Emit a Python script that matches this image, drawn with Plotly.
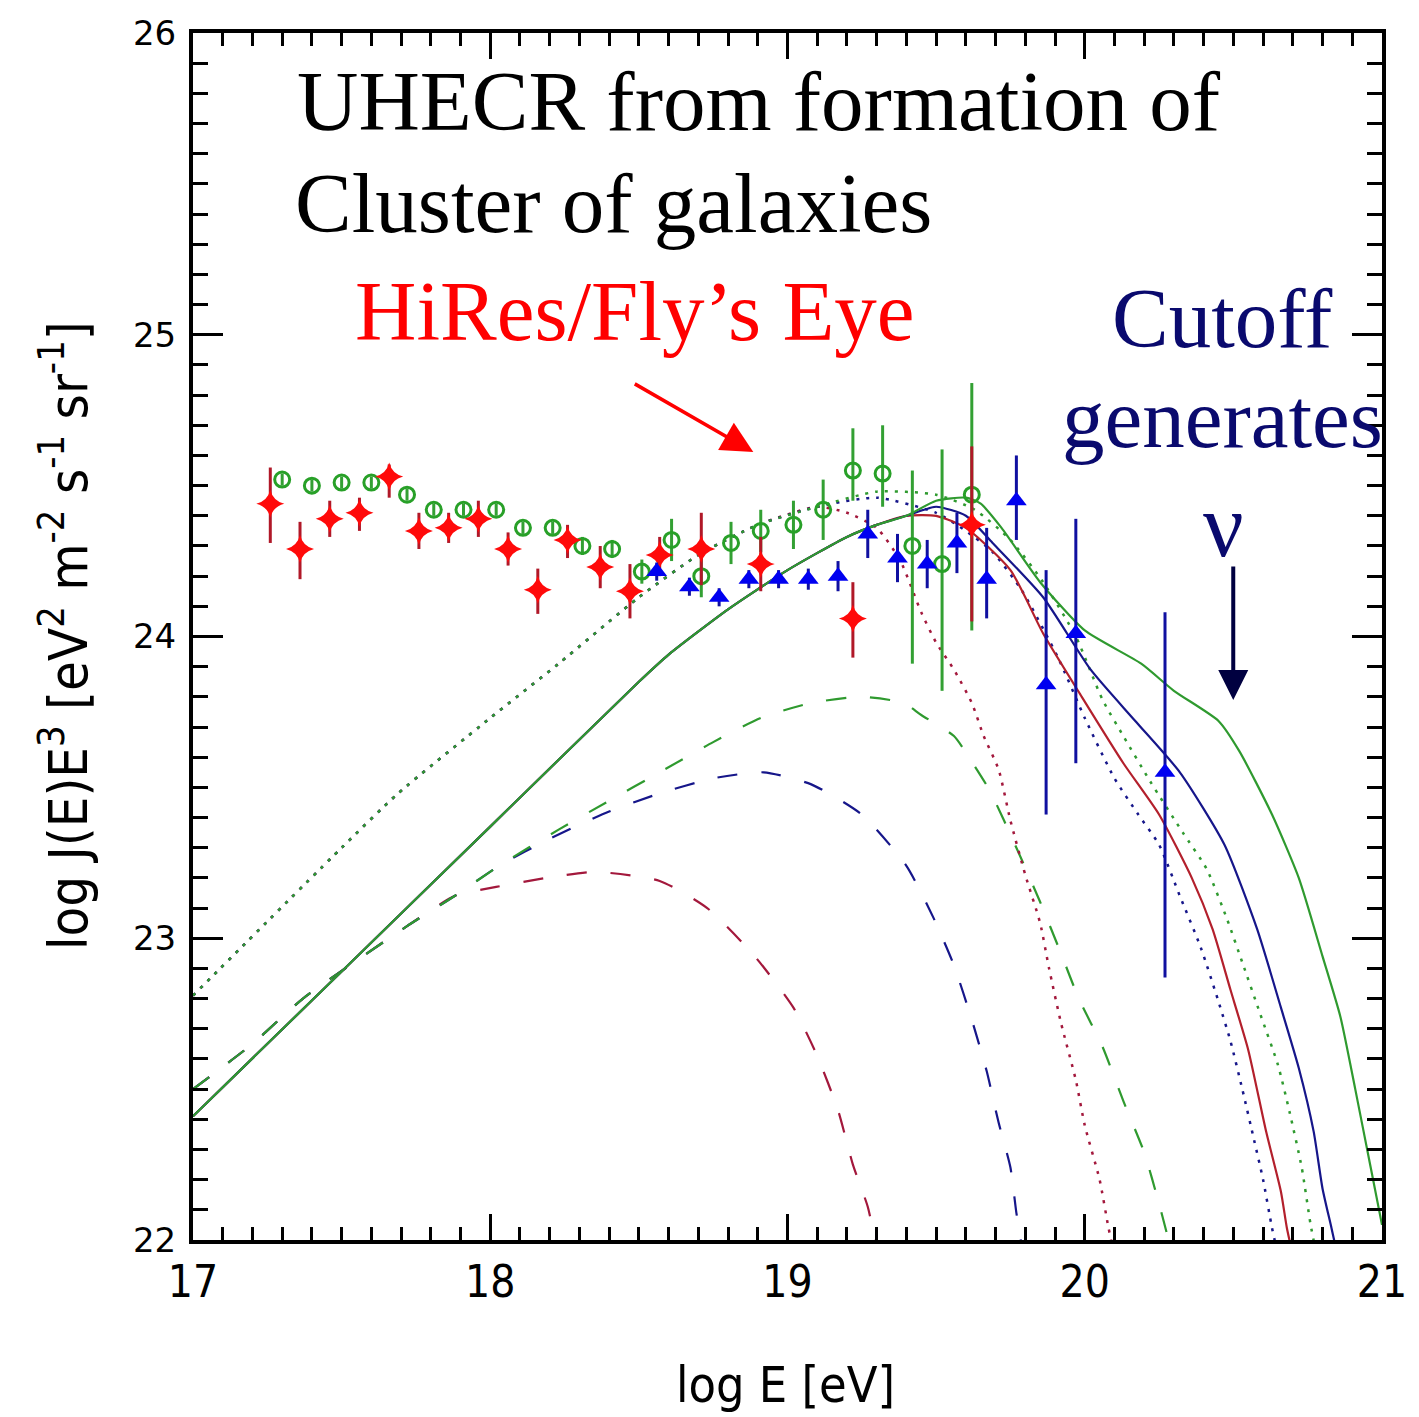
import plotly.graph_objects as go

# ---------------- data ----------------
# HiRes (red stars)
hires_x = [17.26, 17.36, 17.46, 17.56, 17.66, 17.76, 17.86, 17.96, 18.06, 18.16, 18.26, 18.37, 18.47, 18.57, 18.71, 18.91, 19.22, 19.62]
hires_y = [24.44, 24.29, 24.39, 24.41, 24.53, 24.35, 24.36, 24.39, 24.29, 24.155, 24.32, 24.23, 24.15, 24.27, 24.29, 24.24, 24.06, 24.37]
hires_ep = [0.12, 0.09, 0.06, 0.05, 0.04, 0.06, 0.05, 0.06, 0.055, 0.07, 0.05, 0.07, 0.09, 0.06, 0.12, 0.09, 0.12, 0.26]
hires_em = [0.13, 0.10, 0.06, 0.06, 0.07, 0.06, 0.05, 0.06, 0.055, 0.08, 0.06, 0.07, 0.09, 0.07, 0.12, 0.09, 0.13, 0.32]

# Fly's Eye (green open circles)
fly_x = [17.30, 17.40, 17.50, 17.60, 17.72, 17.81, 17.91, 18.02, 18.11, 18.21, 18.31, 18.41, 18.51, 18.61, 18.71, 18.81, 18.91, 19.02, 19.12, 19.22, 19.32, 19.42, 19.52, 19.62]
fly_y = [24.52, 24.50, 24.51, 24.51, 24.47, 24.42, 24.42, 24.42, 24.36, 24.36, 24.30, 24.29, 24.215, 24.32, 24.20, 24.31, 24.35, 24.37, 24.42, 24.55, 24.54, 24.30, 24.24, 24.47]
fly_ep = [0.02, 0.02, 0.02, 0.02, 0.02, 0.02, 0.02, 0.02, 0.02, 0.02, 0.03, 0.03, 0.04, 0.07, 0.07, 0.07, 0.07, 0.08, 0.10, 0.14, 0.16, 0.25, 0.38, 0.37]
fly_em = [0.02, 0.02, 0.02, 0.02, 0.02, 0.02, 0.02, 0.02, 0.02, 0.02, 0.03, 0.03, 0.04, 0.07, 0.07, 0.07, 0.07, 0.08, 0.10, 0.10, 0.11, 0.39, 0.42, 0.45]

# AGASA (blue triangles)
agasa_x = [18.56, 18.67, 18.77, 18.87, 18.97, 19.07, 19.17, 19.27, 19.37, 19.47, 19.57, 19.67, 19.77, 19.87, 19.97, 20.27]
agasa_y = [24.215, 24.165, 24.13, 24.19, 24.19, 24.19, 24.20, 24.34, 24.26, 24.24, 24.31, 24.19, 24.45, 23.84, 24.01, 23.55]
agasa_ep = [0.03, 0.03, 0.03, 0.03, 0.03, 0.035, 0.05, 0.08, 0.08, 0.08, 0.10, 0.17, 0.15, 0.38, 0.38, 0.53]
agasa_em = [0.03, 0.03, 0.03, 0.03, 0.03, 0.035, 0.05, 0.08, 0.08, 0.08, 0.10, 0.13, 0.13, 0.43, 0.43, 0.68]

# model curves: shared rising parts
solid_rise_x = [17.0, 17.5, 18.0, 18.5, 18.6, 18.8, 19.0, 19.2, 19.3, 19.4]
solid_rise_y = [22.41, 22.89, 23.37, 23.85, 23.94, 24.09, 24.22, 24.33, 24.37, 24.40]
dotted_rise_x = [17.0, 17.5, 17.69, 18.0, 18.23, 18.5, 18.7, 18.9, 19.1]
dotted_rise_y = [22.81, 23.30, 23.48, 23.73, 23.91, 24.13, 24.27, 24.37, 24.43]
dashed_rise_x = [17.0, 17.2, 17.37, 17.72, 17.88]
dashed_rise_y = [22.50, 22.65, 22.80, 23.04, 23.14]

# solid tails
green_solid_x = [19.5, 19.6, 19.65, 19.72, 19.85, 20.0, 20.19, 20.30, 20.45, 20.52, 20.63, 20.72, 20.80, 20.86, 20.91, 20.96, 21.0]
green_solid_y = [24.45, 24.46, 24.44, 24.36, 24.18, 24.02, 23.91, 23.82, 23.72, 23.62, 23.41, 23.20, 22.94, 22.74, 22.50, 22.25, 22.05]
blue_solid_x = [19.5, 19.6, 19.69, 19.86, 20.02, 20.17, 20.32, 20.47, 20.58, 20.66, 20.72, 20.77, 20.80, 20.83, 20.85]
blue_solid_y = [24.43, 24.40, 24.31, 24.13, 23.89, 23.72, 23.55, 23.31, 23.03, 22.77, 22.57, 22.36, 22.17, 22.04, 21.95]
red_solid_x = [19.5, 19.6, 19.75, 19.86, 19.99, 20.13, 20.25, 20.36, 20.43, 20.49, 20.55, 20.61, 20.66, 20.68, 20.70]
red_solid_y = [24.40, 24.36, 24.22, 24.01, 23.80, 23.58, 23.41, 23.20, 23.03, 22.83, 22.63, 22.36, 22.16, 22.04, 21.95]

# dotted tails
green_dot_x = [19.3, 19.5, 19.63, 19.75, 19.86, 19.97, 20.06, 20.13, 20.22, 20.33, 20.41, 20.48, 20.53, 20.59, 20.65, 20.69, 20.73, 20.76, 20.78]
green_dot_y = [24.48, 24.47, 24.42, 24.32, 24.18, 24.00, 23.79, 23.67, 23.52, 23.35, 23.23, 23.06, 22.92, 22.75, 22.58, 22.42, 22.24, 22.05, 21.95]
blue_dot_x = [19.3, 19.5, 19.6, 19.69, 19.79, 19.91, 20.0, 20.10, 20.18, 20.25, 20.32, 20.39, 20.45, 20.49, 20.53, 20.57, 20.60, 20.63, 20.65]
blue_dot_y = [24.46, 24.41, 24.35, 24.28, 24.15, 23.93, 23.73, 23.53, 23.41, 23.31, 23.14, 22.97, 22.79, 22.66, 22.50, 22.33, 22.20, 22.04, 21.95]
red_dot_x = [19.2, 19.3, 19.38, 19.45, 19.5, 19.56, 19.62, 19.66, 19.71, 19.75, 19.80, 19.85, 19.88, 19.92, 19.97, 20.0, 20.05, 20.08, 20.10]
red_dot_y = [24.41, 24.36, 24.25, 24.08, 23.98, 23.89, 23.78, 23.67, 23.56, 23.39, 23.21, 23.05, 22.90, 22.72, 22.53, 22.38, 22.20, 22.04, 21.95]

# dashed tails
green_dash_x = [18.03, 18.23, 18.39, 18.57, 18.75, 18.91, 19.08, 19.25, 19.39, 19.45, 19.56, 19.61, 19.68, 19.77, 19.85, 19.92, 19.98, 20.06, 20.13, 20.20, 20.25, 20.29]
green_dash_y = [23.24, 23.36, 23.45, 23.55, 23.65, 23.73, 23.78, 23.80, 23.78, 23.74, 23.67, 23.60, 23.49, 23.30, 23.12, 22.95, 22.80, 22.64, 22.46, 22.29, 22.12, 21.97]
blue_dash_x = [18.03, 18.2, 18.40, 18.57, 18.75, 18.92, 19.08, 19.25, 19.40, 19.49, 19.56, 19.62, 19.67, 19.71, 19.75, 19.77, 19.79]
blue_dash_y = [23.24, 23.33, 23.42, 23.48, 23.53, 23.55, 23.51, 23.41, 23.24, 23.07, 22.91, 22.73, 22.56, 22.39, 22.24, 22.09, 21.97]
red_dash_x = [18.02, 18.19, 18.35, 18.57, 18.73, 18.89, 19.02, 19.10, 19.17, 19.22, 19.27, 19.30]
red_dash_y = [23.17, 23.20, 23.22, 23.19, 23.10, 22.94, 22.77, 22.61, 22.43, 22.25, 22.11, 21.97]

x_ticks = [17, 18, 19, 20, 21]
y_ticks = [22, 23, 24, 25, 26]

# ---------------- styles ----------------
GREEN = "#2f9a2f"
BLUE = "#16168a"
RED = "#b3202c"
CRIMSON = "#a3183c"

fig = go.Figure()

def add_line(xs, ys, color, dash, width=2.2):
    fig.add_trace(go.Scatter(x=xs, y=ys, mode="lines",
                             line=dict(color=color, width=width, dash=dash, shape="spline", smoothing=0.6),
                             hoverinfo="skip"))

DOT = "3px,7px"
DASH = "20px,24px"

# dashed family
add_line(dashed_rise_x + red_dash_x, dashed_rise_y + red_dash_y, CRIMSON, DASH)
add_line(dashed_rise_x + blue_dash_x, dashed_rise_y + blue_dash_y, BLUE, DASH)
add_line(dashed_rise_x + green_dash_x, dashed_rise_y + green_dash_y, GREEN, DASH)
# dotted family
add_line(dotted_rise_x + red_dot_x, dotted_rise_y + red_dot_y, CRIMSON, DOT, 2.5)
add_line(dotted_rise_x + blue_dot_x, dotted_rise_y + blue_dot_y, BLUE, DOT, 2.5)
add_line(dotted_rise_x + green_dot_x, dotted_rise_y + green_dot_y, GREEN, DOT, 2.5)
# solid family
add_line(solid_rise_x + red_solid_x, solid_rise_y + red_solid_y, RED, "solid")
add_line(solid_rise_x + blue_solid_x, solid_rise_y + blue_solid_y, BLUE, "solid")
add_line(solid_rise_x + green_solid_x, solid_rise_y + green_solid_y, GREEN, "solid")

# data points
fig.add_trace(go.Scatter(
    x=fly_x, y=fly_y, mode="markers",
    marker=dict(symbol="circle-open", size=15, color="#28a028", line=dict(width=3, color="#28a028")),
    error_y=dict(type="data", symmetric=False, array=fly_ep, arrayminus=fly_em,
                 color="#33a033", thickness=3, width=0),
    hoverinfo="skip"))
fig.add_trace(go.Scatter(
    x=hires_x, y=hires_y, mode="markers",
    marker=dict(symbol="star-diamond", size=20, color="#ff0a0a", line=dict(width=0)),
    error_y=dict(type="data", symmetric=False, array=hires_ep, arrayminus=hires_em,
                 color="#b01828", thickness=3, width=0),
    hoverinfo="skip"))
fig.add_trace(go.Scatter(
    x=agasa_x, y=agasa_y, mode="markers",
    marker=dict(symbol="triangle-up", size=18, color="#0000f0", line=dict(width=0)),
    error_y=dict(type="data", symmetric=False, array=agasa_ep, arrayminus=agasa_em,
                 color="#1010a0", thickness=3, width=0),
    hoverinfo="skip"))

# ---------------- layout ----------------
W, H = 1419, 1417
ML, MR, MT, MB = 193, 27, 33, 177
PW, PH = W - ML - MR, H - MT - MB

def px2x(px):
    return 17 + (px - ML) / PW * 4

def px2y(py):
    return 22 + (MT + PH - py) / PH * 4

SERIF = "Liberation Serif, Times New Roman, serif"
anns = []
def text(s, left, center_y, color, size=85):
    anns.append(dict(x=px2x(left), y=px2y(center_y), xref="x", yref="y", text=s,
                     showarrow=False, xanchor="left", yanchor="middle",
                     font=dict(family=SERIF, size=size, color=color)))

text("UHECR from formation of", 296, 101, "black")
text("Cluster of galaxies", 294, 203, "black")
text("HiRes/Fly\u2019s Eye", 354, 311, "#ff0000")
text("Cutoff", 1118, 318, "#0a0a6e")
text("generates", 1067, 418, "#0a0a6e")
text("\u03bd", 1209, 525, "#0a0a6e", 90)

# arrows
anns.append(dict(x=px2x(758), y=px2y(452), xref="x", yref="y", ax=-120, ay=-69,
                 text="", showarrow=True, arrowhead=2, arrowsize=1.8, arrowwidth=3.5,
                 arrowcolor="#ff0000"))
anns.append(dict(x=px2x(1242), y=px2y(700), xref="x", yref="y", ax=0, ay=-135,
                 text="", showarrow=True, arrowhead=2, arrowsize=1.5, arrowwidth=4,
                 arrowcolor="#000040"))

AXFONT = "Liberation Sans Narrow, DejaVu Sans Condensed, Arial Narrow, sans-serif"
# axis titles
anns.append(dict(x=(790 - ML) / PW, y=(MT + PH - 1385) / PH, xref="paper", yref="paper",
                 text="log E [eV]", showarrow=False, xanchor="center", yanchor="middle",
                 font=dict(family=AXFONT, size=50, color="black")))
anns.append(dict(x=(64 - ML) / PW, y=(MT + PH - 636) / PH, xref="paper", yref="paper",
                 text="log J(E)E<sup>3</sup> [eV<sup>2</sup> m<sup>-2</sup> s<sup>-1</sup> sr<sup>-1</sup>]",
                 textangle=-90, showarrow=False, xanchor="center", yanchor="middle",
                 font=dict(family=AXFONT, size=54, color="black")))

common_axis = dict(showgrid=False, zeroline=False, showline=True, linecolor="black", linewidth=4,
                   mirror="ticks", ticks="inside", tickcolor="black", tickwidth=3)

fig.update_layout(
    width=W, height=H,
    margin=dict(l=ML, r=MR, t=MT, b=MB),
    paper_bgcolor="white", plot_bgcolor="white",
    showlegend=False,
    annotations=anns,
    xaxis=dict(range=[17, 21], tickvals=x_ticks, ticktext=[str(v) for v in x_ticks], ticklen=26,
               minor=dict(dtick=0.1, tick0=17, ticklen=13, tickwidth=2.5, ticks="inside", tickcolor="black"),
               tickfont=dict(family=AXFONT, size=44, color="black"), ticklabelstandoff=0,
               **common_axis),
    yaxis=dict(range=[22, 26], tickvals=y_ticks, ticktext=[str(v) for v in y_ticks], ticklen=30,
               minor=dict(dtick=0.1, tick0=22, ticklen=15, tickwidth=2.5, ticks="inside", tickcolor="black"),
               tickfont=dict(family="DejaVu Sans, sans-serif", size=34, color="black"), ticklabelstandoff=6,
               **common_axis),
)

fig.write_html("out.html")
